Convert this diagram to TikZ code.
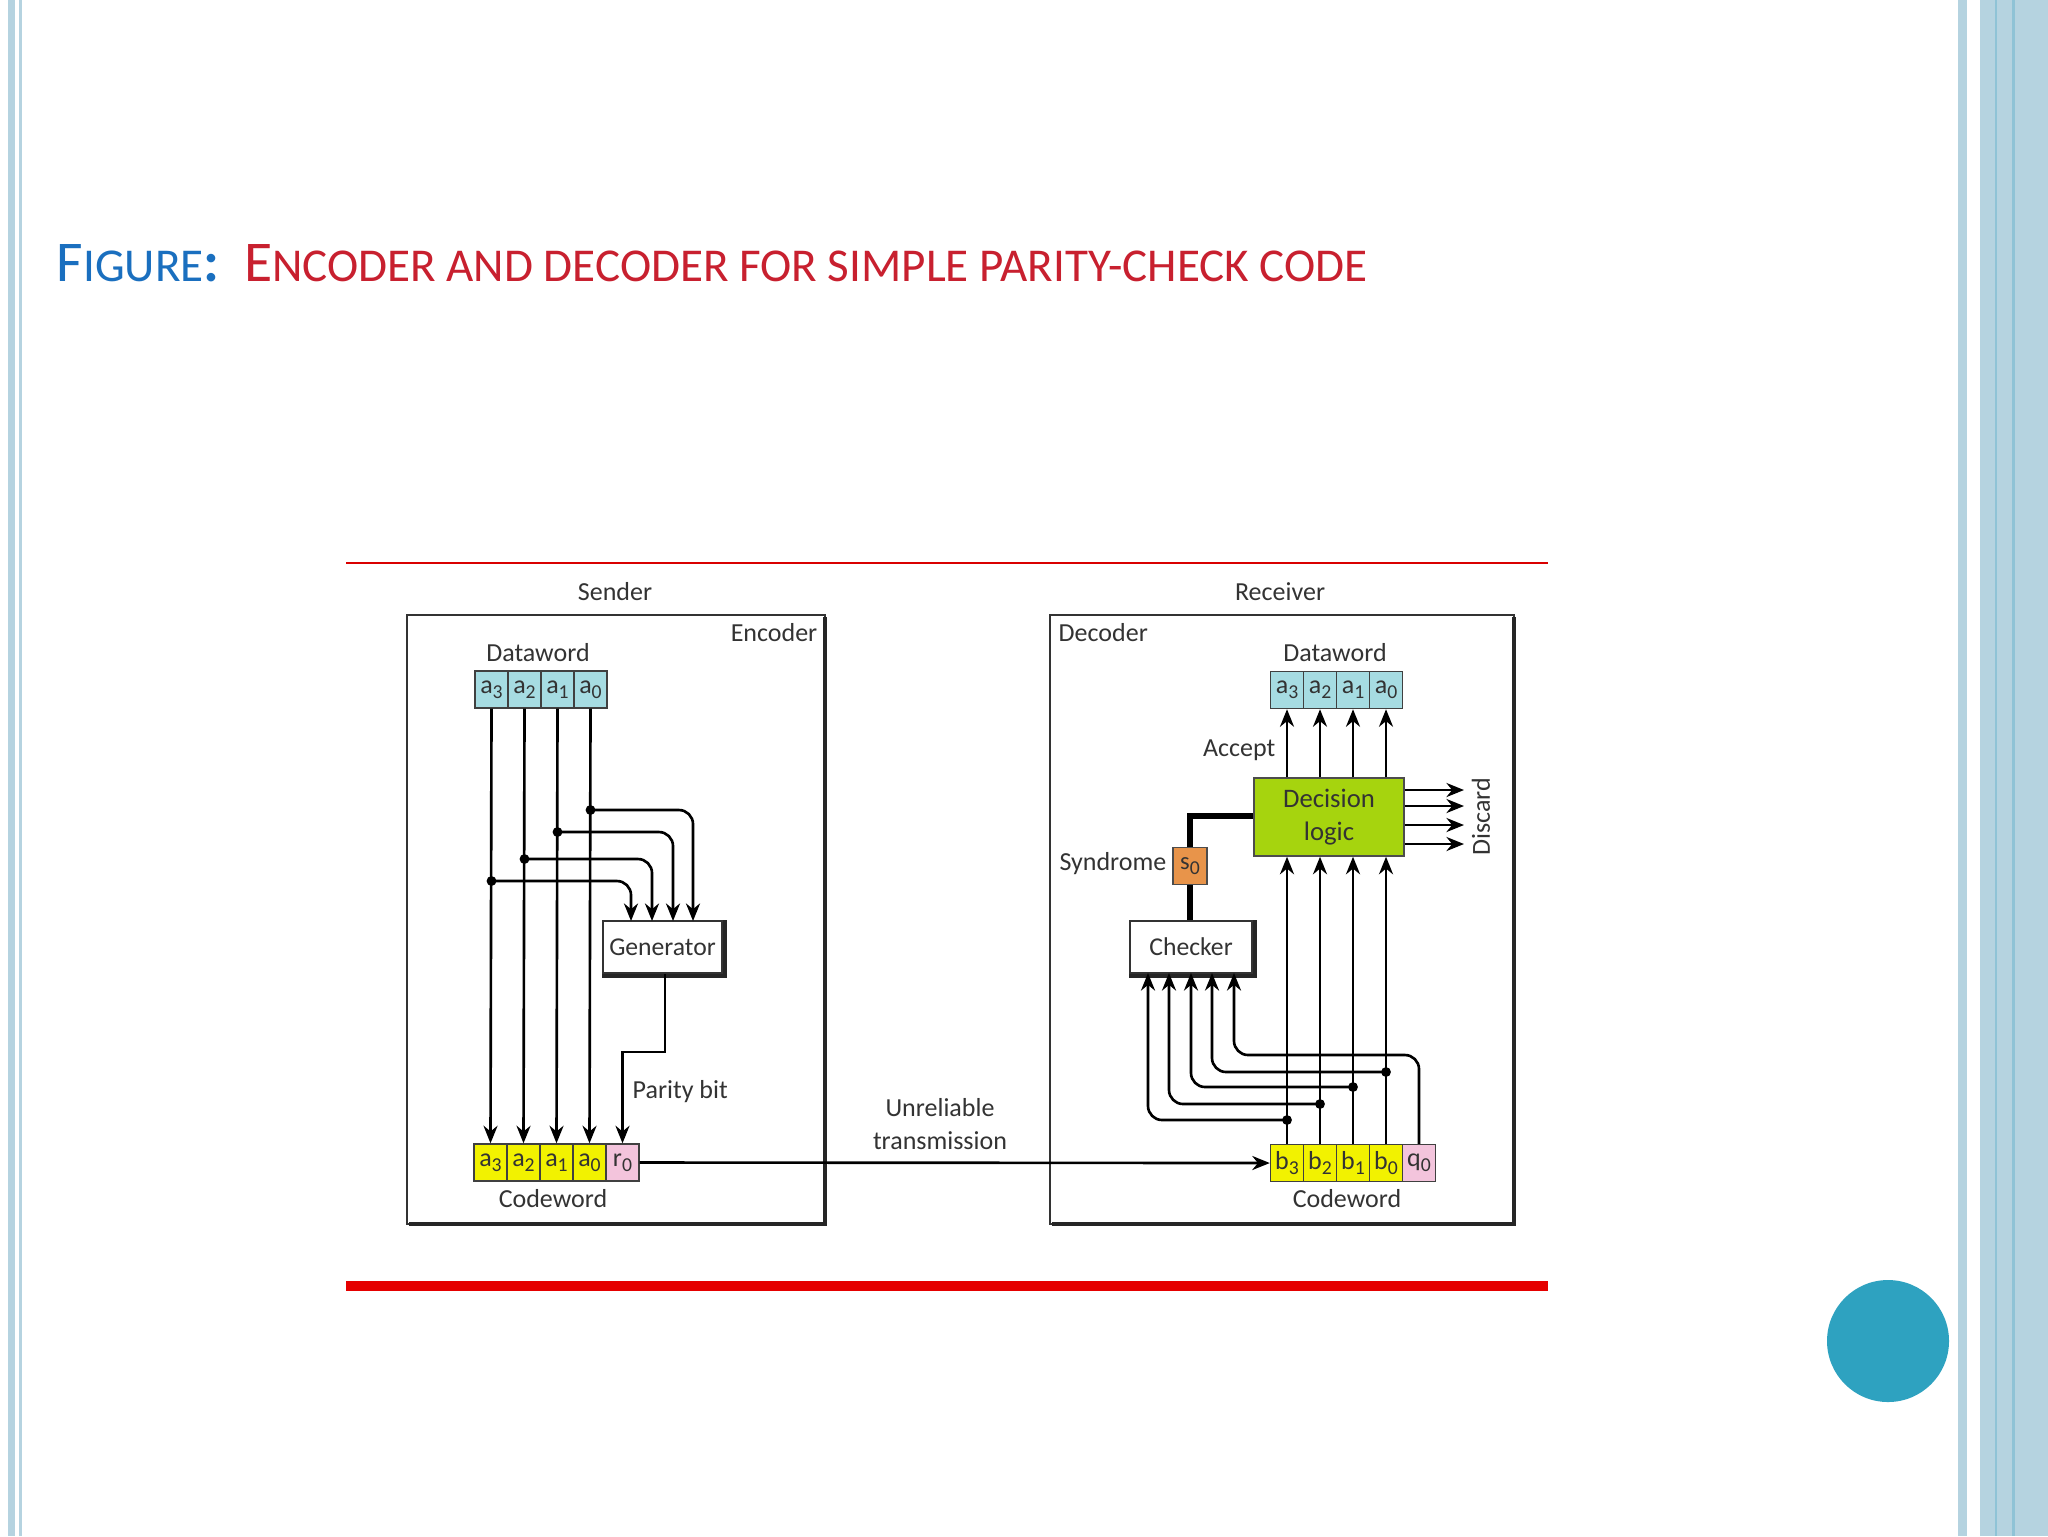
\documentclass[tikz,border=0pt]{standalone}
\usepackage{fontspec}
\setmainfont{Carlito}
\usetikzlibrary{arrows.meta}
\definecolor{cellblue}{HTML}{A6DCE2}
\definecolor{cellyel}{HTML}{F2F200}
\definecolor{cellpink}{HTML}{F3C4DC}
\definecolor{synor}{HTML}{E8944A}
\definecolor{declime}{HTML}{A6D40E}
\definecolor{tblue}{HTML}{1A6FBF}
\definecolor{tred}{HTML}{C8202F}
\definecolor{bord}{HTML}{B5D3E0}
\definecolor{bordd}{HTML}{8FC3D6}
\definecolor{dot}{HTML}{2EA2C0}
\definecolor{txt}{HTML}{333333}
\newcommand{\sbx}[1]{\raisebox{-1.5pt}{\fontsize{5.6}{6}\selectfont #1}}
\tikzset{
  cell/.style={draw=black!75, line width=0.4pt, minimum width=0.33cm, minimum height=0.37cm, inner sep=0pt, font=\fontsize{7.4}{8}\selectfont, text=txt},
  lbl/.style={font=\fontsize{7.4}{8.6}\selectfont, text=txt, inner sep=0pt},
  wire/.style={line width=0.75pt, black},
  arr/.style={wire, -{Stealth[length=5pt,width=4pt]}},
  jdot/.style={circle, fill=black, inner sep=0pt, minimum size=2.8pt},
  blockbox/.style={draw=black!80, line width=0.5pt, fill=white, inner sep=0pt, font=\fontsize{7.3}{8.6}\selectfont, text=txt}
}
\begin{document}
\begin{tikzpicture}[x=0.1mm,y=-0.1mm]
\useasboundingbox (0,0) rectangle (2048,1536);
\fill[white] (0,0) rectangle (2048,1536);
% borders
\fill[bord] (8,0) rectangle (15,1536);
\fill[bord] (19,0) rectangle (22,1536);
\fill[bord] (1958,0) rectangle (1967,1536);
\fill[bord] (1980,0) rectangle (2048,1536);
\fill[bordd] (1995,0) rectangle (1997,1536);
\fill[bordd] (2012,0) rectangle (2015,1536);
\fill[dot] (1888,1341) circle (61);
% title
\node[anchor=base west, inner sep=0pt] (title) at (56,281) {%
 {\color{tblue}\fontsize{16.4}{18}\selectfont F\fontsize{13.4}{15}\selectfont IGURE\fontsize{16.4}{18}\selectfont\textbf{:}}\hspace{7pt}%
 {\color{tred}\fontsize{16.4}{18}\selectfont E\fontsize{13.4}{15}\selectfont NCODER AND DECODER FOR SIMPLE PARITY-CHECK CODE}};
% red rules
\draw[red!85!black, line width=0.6pt] (346,563) -- (1548,563);
\draw[red!90!black, line width=2.6pt] (346,1286) -- (1548,1286);
% outer boxes
\draw[black!80, line width=0.5pt] (407,615) rectangle (825,1224);
\draw[black!85, line width=1.4pt] (825,617) -- (825,1224) -- (409,1224);
\draw[black!80, line width=0.5pt] (1050,615) rectangle (1514,1224);
\draw[black!85, line width=1.4pt] (1514,617) -- (1514,1224) -- (1052,1224);
\node[lbl] (sender) at (615,592) {Sender};
\node[lbl] (receiver) at (1280,592) {Receiver};
\node[lbl, anchor=east] (encl) at (818,633) {Encoder};
\node[lbl, anchor=west] (decl) at (1058,633) {Decoder};
% ===== Encoder
\node[lbl] (dwl) at (538,653) {Dataword};
\node[cell, fill=cellblue] (da3) at (491.5,689.5) {a\sbx3};
\node[cell, fill=cellblue] (da2) at (524.5,689.5) {a\sbx2};
\node[cell, fill=cellblue] (da1) at (557.5,689.5) {a\sbx1};
\node[cell, fill=cellblue] (da0) at (590.5,689.5) {a\sbx0};
\node[cell, fill=cellyel] (ca3) at (490.5,1162.5) {a\sbx3};
\node[cell, fill=cellyel] (ca2) at (523.5,1162.5) {a\sbx2};
\node[cell, fill=cellyel] (ca1) at (556.5,1162.5) {a\sbx1};
\node[cell, fill=cellyel] (ca0) at (589.5,1162.5) {a\sbx0};
\node[cell, fill=cellpink] (cr0) at (622.5,1162.5) {r\sbx0};
\node[lbl] (cwl) at (553,1199) {Codeword};
\foreach \n in {3,2,1,0}{\draw[arr] (da\n.south) -- (ca\n.north);}
\node[blockbox, minimum width=1.19cm, minimum height=0.52cm] (gen) at (662.5,947) {Generator};
\draw[black!85, line width=1.2pt] ([xshift=0.6pt]gen.north east) -- ([xshift=0.6pt,yshift=-0.6pt]gen.south east) -- ([yshift=-0.6pt]gen.south west);
\coordinate (j0) at (590.5,810); \coordinate (j1) at (557.5,832);
\coordinate (j2) at (524.5,859); \coordinate (j3) at (491.5,881);
\coordinate (g0) at (693,921); \coordinate (g1) at (673,921);
\coordinate (g2) at (652,921); \coordinate (g3) at (631,921);
\foreach \n in {0,1,2,3}{
  \draw[arr, rounded corners=4pt] (j\n) -| (g\n);
  \node[jdot] at (j\n) {};}
\coordinate (pb1) at (665,1052); \coordinate (pb2) at (622.5,1052);
\draw[arr] (gen.south -| pb1) -- (pb1) -- (pb2) -- (cr0.north);
\node[lbl, anchor=west] (pbl) at (632,1092) {Parity bit};
% ===== Decoder
\node[lbl] (dwl2) at (1335,653) {Dataword};
\node[cell, fill=cellblue] (ra3) at (1287,690) {a\sbx3};
\node[cell, fill=cellblue] (ra2) at (1320,690) {a\sbx2};
\node[cell, fill=cellblue] (ra1) at (1353,690) {a\sbx1};
\node[cell, fill=cellblue] (ra0) at (1386,690) {a\sbx0};
\node[cell, fill=cellyel] (rb3) at (1287,1163) {b\sbx3};
\node[cell, fill=cellyel] (rb2) at (1320,1163) {b\sbx2};
\node[cell, fill=cellyel] (rb1) at (1353,1163) {b\sbx1};
\node[cell, fill=cellyel] (rb0) at (1386,1163) {b\sbx0};
\node[cell, fill=cellpink] (rq0) at (1419,1163) {q\sbx0};
\node[lbl] (cwl2) at (1347,1199) {Codeword};
\node[draw=black!70, fill=declime, line width=0.4pt, minimum width=1.50cm, minimum height=0.78cm, inner sep=0pt, align=center, font=\fontsize{7.6}{9.4}\selectfont, text=txt] (dec) at (1329,817) {Decision\\logic};
\foreach \n in {3,2,1,0}{
  \draw[arr] (dec.north -| ra\n) -- (ra\n.south);
  \draw[arr] (rb\n.north) -- (dec.south -| rb\n);}
\node[lbl, anchor=east] (acc) at (1276,750) {Accept};
\foreach \k/\yy in {a/790,b/806,c/825,d/844}{
  \coordinate (ds\k) at (1464,\yy);
  \draw[arr] (dec.east |- ds\k) -- (ds\k);}
\node[lbl, rotate=90] (disc) at (1481,817) {Discard};
\node[blockbox, minimum width=1.22cm, minimum height=0.52cm] (chk) at (1191,947) {Checker};
\draw[black!85, line width=1.2pt] ([xshift=0.6pt]chk.north east) -- ([xshift=0.6pt,yshift=-0.6pt]chk.south east) -- ([yshift=-0.6pt]chk.south west);
\node[draw=black!70, fill=synor, line width=0.4pt, minimum width=0.34cm, minimum height=0.37cm, inner sep=0pt, font=\fontsize{7}{8}\selectfont, text=txt] (s0) at (1190,866) {s\sbx0};
\node[lbl, anchor=east] (synl) at (1167,864) {Syndrome};
\coordinate (tk) at (1190,816);
\draw[line width=1.6pt] (dec.west |- tk) -- (tk) -- (s0.north);
\draw[line width=1.6pt] (s0.south) -- (chk.north -| s0);
% checker inputs
\coordinate (k3) at (1287,1120); \coordinate (k2) at (1320,1104);
\coordinate (k1) at (1353,1087); \coordinate (k0) at (1386,1072);
\coordinate (c3) at (1148,973); \coordinate (c2) at (1169,973);
\coordinate (c1) at (1191,973); \coordinate (c0) at (1212,973);
\coordinate (cq) at (1234,973); \coordinate (qq) at (1419,1055);
\foreach \n in {3,2,1,0}{
  \draw[arr, rounded corners=4pt] (k\n) -| (c\n);
  \node[jdot] at (k\n) {};}
\draw[arr, rounded corners=4pt] (rq0.north) -- (qq) -| (cq);
% transmission
\draw[arr] (cr0.east) -- (rb3.west);
\node[lbl, align=center] (unr) at (940,1124) {Unreliable\\[1pt]transmission};
\end{tikzpicture}
\end{document}
